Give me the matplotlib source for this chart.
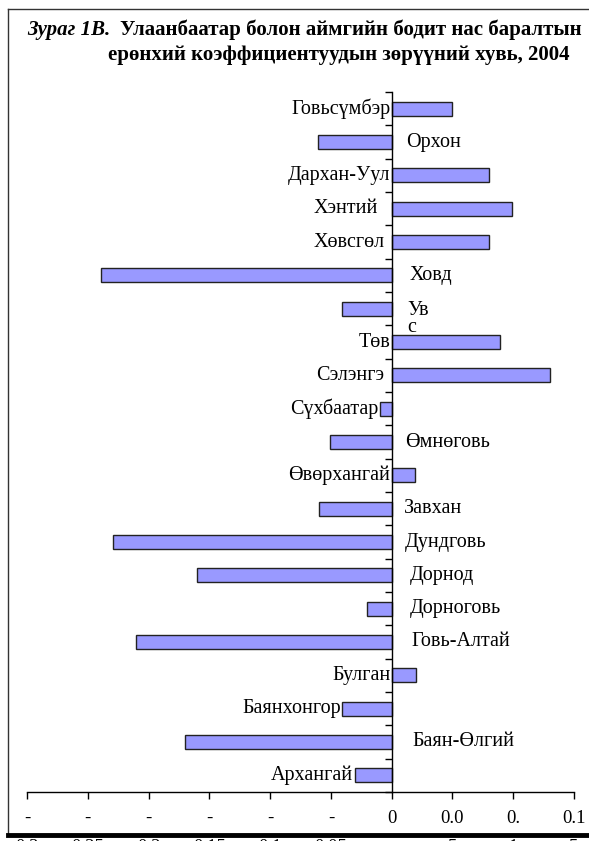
import numpy as np
import matplotlib.pyplot as plt
from matplotlib.lines import Line2D

plt.rcParams['font.family'] = ['Liberation Serif', 'DejaVu Serif']

# aimags, top to bottom
aimags = ['Говьсүмбэр', 'Орхон', 'Дархан-Уул', 'Хэнтий', 'Хөвсгөл', 'Ховд',
          'Ув\nс', 'Төв', 'Сэлэнгэ', 'Сүхбаатар', 'Өмнөговь', 'Өвөрхангай',
          'Завхан', 'Дундговь', 'Дорнод', 'Дорноговь', 'Говь-Алтай', 'Булган',
          'Баянхонгор', 'Баян-Өлгий', 'Архангай']
values = [0.05, -0.061, 0.08, 0.099, 0.08, -0.239,
          -0.041, 0.089, 0.13, -0.01, -0.051, 0.019,
          -0.06, -0.229, -0.16, -0.02, -0.21, 0.02,
          -0.041, -0.17, -0.03]

# where each category name sits (Excel data-label placement)
label_x = [-0.001, 0.012, -0.001, -0.011, -0.006, 0.015,
           0.013, -0.001, -0.006, -0.011, 0.011, -0.001,
           0.010, 0.011, 0.015, 0.015, 0.016, -0.001,
           -0.042, 0.017, -0.032]

xticks = [-0.3, -0.25, -0.2, -0.15, -0.1, -0.05, 0, 0.05, 0.1, 0.15]
xtick_labels = ['-\n0.3', '-\n0.25', '-\n0.2', '-\n0.15', '-\n0.1', '-\n0.05',
                '0', '0.0\n5', '0.\n1', '0.1\n5']

fig = plt.figure(figsize=(5.89, 8.41), dpi=100)
ax = fig.add_axes([27 / 589, 1 - 792 / 841, (574 - 27) / 589, 700 / 841])

n = len(aimags)
y = np.arange(n)[::-1]
ax.barh(y, values, height=0.42, color='#9999FF', edgecolor='#222222', linewidth=1)

for yi, name, lx in zip(y, aimags, label_x):
    ha = 'right' if lx < 0 else 'left'
    if '\n' in name:
        ax.text(lx, yi - 0.3, name, ha=ha, va='center', fontsize=14.5, linespacing=0.85)
    else:
        ax.text(lx, yi, name, ha=ha, va='center', fontsize=14.5)

ax.set_xlim(-0.3, 0.15)
ax.set_ylim(-0.5, n - 0.5)
ax.set_xticks(xticks)
ax.set_xticklabels(xtick_labels, fontsize=13.5, linespacing=1.9)
ax.set_yticks(np.arange(n + 1) - 0.5)
ax.set_yticklabels([])
ax.tick_params(axis='x', direction='out', length=5, pad=8, width=1)
ax.tick_params(axis='y', direction='out', length=5, width=1)
ax.spines['left'].set_position(('data', 0))
ax.spines['top'].set_visible(False)
ax.spines['right'].set_visible(False)
for sp in ax.spines.values():
    sp.set_linewidth(1)

# title
fig.text(27 / 589, 1 - 30 / 841, 'Зураг 1В.', fontsize=15, fontweight='bold',
         fontstyle='italic', va='center', ha='left')
fig.text(120 / 589, 1 - 30 / 841, 'Улаанбаатар болон аймгийн бодит нас баралтын',
         fontsize=15, fontweight='bold', va='center', ha='left')
fig.text(108 / 589, 1 - 55 / 841, 'ерөнхий коэффициентуудын зөрүүний хувь, 2004',
         fontsize=15, fontweight='bold', va='center', ha='left')

# chart-area frame
fig.add_artist(Line2D([8 / 589, 1], [1 - 8.5 / 841] * 2, color='#333333', lw=1))
fig.add_artist(Line2D([8 / 589] * 2, [1 - 8.5 / 841, 1 - 835 / 841], color='#333333', lw=1))
fig.add_artist(Line2D([8 / 589, 1], [1 - 835 / 841] * 2, color='black', lw=3.5))

fig.savefig('out.png', dpi=100)
